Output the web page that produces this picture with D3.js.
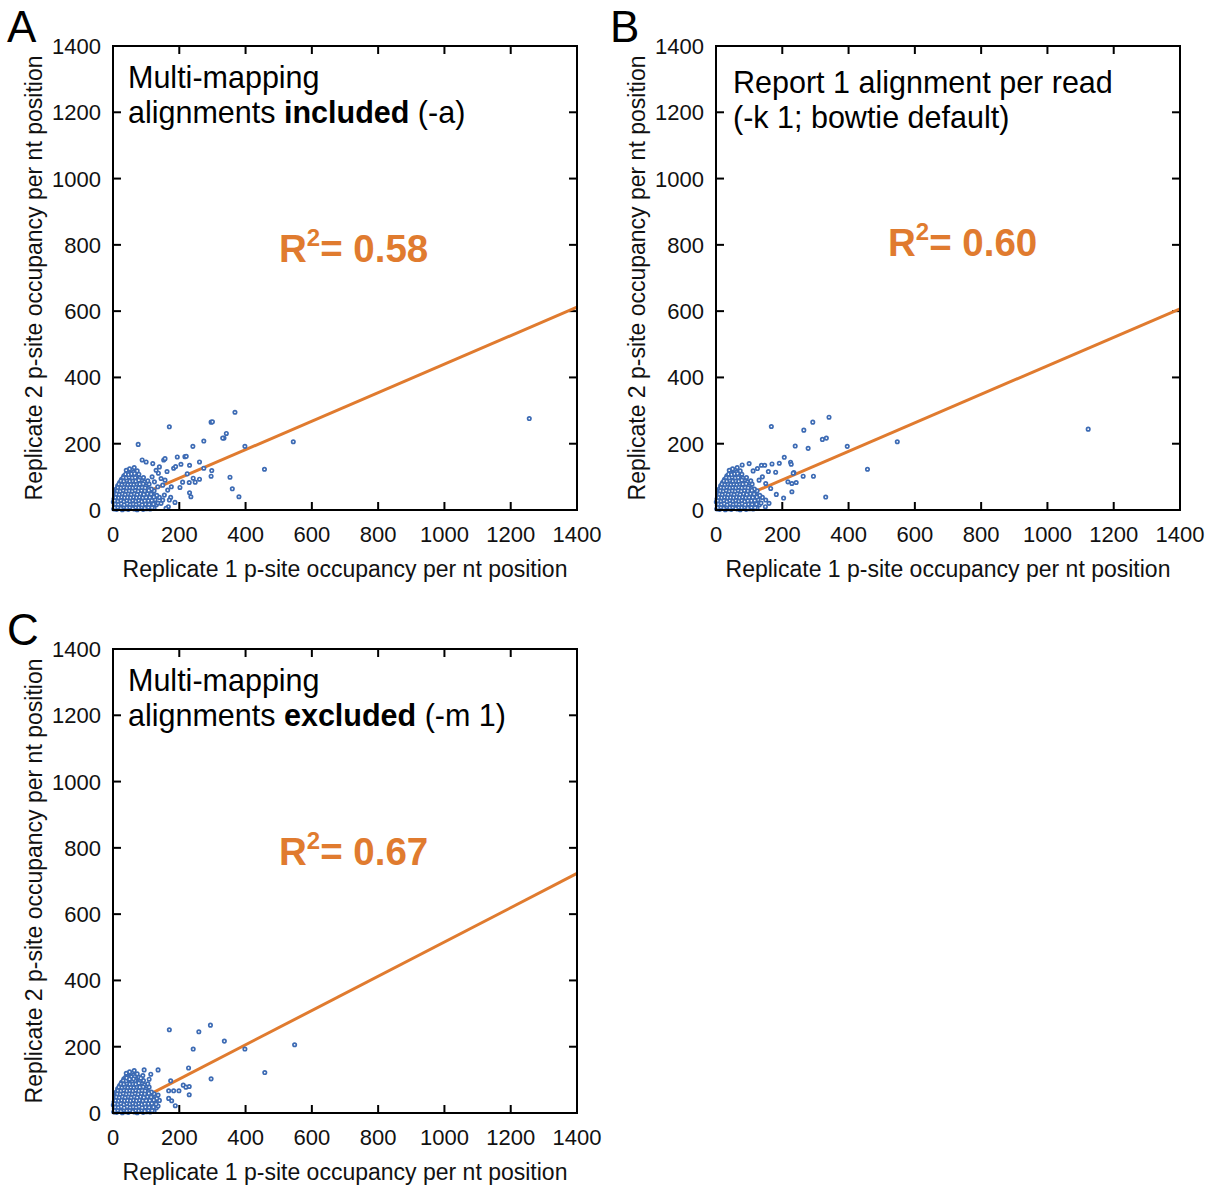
<!DOCTYPE html>
<html>
<head>
  <meta http-equiv="Content-Type" content="text/html;charset=utf-8">
  <title>Replicate p-site occupancy</title>
  <script src="https://d3js.org/d3.v7.min.js"></script>
  <style type="text/css">
    body { margin: 0; background: #fff; }
    svg { font-family: "Liberation Sans", Arial, sans-serif; }
    .frame { fill: none; stroke: #000; stroke-width: 2; }
    .tick-mark { stroke: #000; stroke-width: 2; }
    .tick-label { font-size: 22px; fill: #111; }
    .axis-title { font-size: 23px; fill: #111; }
    .note { font-size: 30.5px; fill: #000; }
    .letter { font-size: 44px; fill: #000; }
    .dot { fill: #fff; stroke: #3d6bb4; stroke-width: 1.7; }
    .fit { stroke: #e07b2f; stroke-width: 3; fill: none; }
    .r2 { font-size: 38.5px; font-weight: bold; fill: #e07b2f; }
  </style>
</head>
<body>
<svg width="1210" height="1186"></svg>
<script type='text/javascript'>
  const ticks = [0, 200, 400, 600, 800, 1000, 1200, 1400];

  const panelNames = ['A', 'B', 'C'];
  const panelNotes = [
    [['Multi-mapping'], ['alignments ', ['included', true], ' (-a)']],
    [['Report 1 alignment per read'], ['(-k 1; bowtie default)']],
    [['Multi-mapping'], ['alignments ', ['excluded', true], ' (-m 1)']]
  ];
  const r2Values = ['0.58', '0.60', '0.67'];
  const fitSlopes = [0.43, 0.43, 0.517];
  const fitIntercepts = [10, 5, -1];

  // dense low-occupancy cloud near the origin (common to all three panels)
  const clusterCore = [
    [2,3],[11,2],[19,5],[28,1],[37,4],[46,2],[55,6],[64,3],[73,1],[82,5],[91,2],[101,4],[112,3],[124,6],
    [4,13],[13,10],[22,14],[31,11],[40,15],[50,12],[59,9],[68,14],[77,11],[87,15],[96,10],[106,13],[117,12],[131,16],
    [1,24],[9,21],[18,25],[27,20],[36,23],[45,26],[54,21],[63,24],[72,22],[81,27],[90,20],[100,25],[110,22],[121,26],[136,21],
    [3,33],[12,31],[21,35],[30,30],[39,34],[48,32],[57,36],[66,31],[75,34],[84,30],[94,35],[104,32],[115,36],[127,31],[140,38],
    [5,43],[14,41],[23,45],[32,40],[41,44],[50,42],[59,46],[68,41],[77,45],[87,40],[97,44],[108,42],[119,47],[132,44],
    [8,53],[17,51],[26,55],[35,50],[44,54],[53,52],[62,56],[71,51],[80,55],[90,52],[101,57],[113,53],[124,58],
    [10,63],[19,61],[28,65],[37,60],[46,64],[55,62],[64,66],[73,61],[82,65],[92,62],[104,67],[116,63],
    [14,73],[23,71],[32,75],[41,70],[50,74],[59,72],[68,76],[77,71],[87,75],[99,72],[109,78],
    [20,83],[29,81],[38,85],[47,80],[56,84],[65,82],[74,86],[84,81],[95,85],[105,88],
    [26,93],[35,91],[44,95],[53,90],[62,94],[71,92],[81,96],[92,98],
    [33,103],[42,101],[51,105],[60,100],[69,104],[78,108],
    [44,113],[53,111],[62,115],[73,118],
    [50,124],[64,128],[40,120]
  ];
  const clusterFill = [
    [6,7],[15,8],[24,6],[33,9],[42,7],[51,8],[60,5],[69,8],[78,7],[87,8],[96,6],[107,8],[118,7],
    [7,18],[16,17],[25,19],[34,16],[43,19],[52,17],[61,18],[70,17],[79,19],[88,16],[98,18],[109,17],[122,18],
    [6,28],[15,27],[24,29],[33,26],[42,29],[51,27],[60,29],[69,27],[78,29],[87,26],[96,28],[107,28],[117,29],
    [8,38],[17,37],[26,39],[35,37],[44,38],[53,37],[62,39],[71,37],[80,39],[90,37],[100,38],[111,38],[123,39],
    [10,48],[19,47],[28,49],[37,47],[46,49],[55,47],[64,49],[73,47],[83,49],[93,47],[104,49],[115,48],
    [13,58],[22,57],[31,59],[40,57],[49,58],[58,57],[67,59],[76,57],[86,59],[96,58],[108,59],
    [15,68],[24,67],[33,69],[42,67],[51,68],[60,67],[69,69],[78,67],[88,68],[97,67],
    [18,78],[27,77],[36,79],[45,77],[54,78],[63,77],[72,79],[81,78],[91,79],
    [24,88],[33,87],[42,89],[51,87],[60,88],[69,87],[78,90],
    [31,98],[40,97],[49,99],[58,97],[67,98],
    [38,108],[47,107],[56,109],[65,110]
  ];

  const extraA = [
    [368,295],[296,265],[300,266],[170,251],[342,231],[335,217],[331,217],[76,198],[398,192],[274,208],
    [241,192],[217,161],[221,162],[194,160],[153,151],[157,155],[88,151],[261,145],[205,138],[231,135],
    [274,126],[298,119],[296,102],[261,93],[353,99],[360,64],[380,40],[224,109],[242,96],[248,84],
    [230,83],[231,52],[235,40],[187,23],[174,38],[167,10],[210,84],[202,68],[183,126],[189,131],
    [163,116],[137,111],[157,90],[176,70],[544,206],[457,123],[1256,276],
    [145,95],[150,75],[165,60],[140,130],[120,140],[100,145],[130,120],[155,45],[170,30],
    [145,20],[160,5],[150,30],[118,100],[125,85],[135,70]
  ];
  const extraB = [
    [341,280],[292,265],[167,252],[265,241],[333,217],[321,213],[396,192],[239,193],[278,186],[206,159],
    [225,144],[227,138],[191,141],[169,139],[137,135],[147,135],[79,136],[235,113],[263,102],[294,102],
    [242,83],[229,80],[217,85],[180,114],[229,55],[331,39],[204,36],[182,47],[149,10],[158,116],
    [112,118],[547,206],[457,123],[1123,244],[233,111],[150,80],[165,65],[140,100],[125,125],[100,140],
    [150,30],[160,20],[130,90]
  ];
  const extraC = [
    [170,251],[294,265],[259,245],[336,217],[242,193],[398,193],[548,206],[458,122],[136,130],[94,130],
    [114,117],[90,113],[84,105],[228,136],[174,97],[296,103],[212,84],[220,78],[230,80],[199,67],
    [183,67],[168,67],[230,55],[168,44],[177,37],[188,22],[130,27],[136,54],[41,106],[50,102],
    [62,103],[109,102]
  ];
  const panelExtras = [extraA, extraB, extraC];

  const panelOrigins = [[113, 46], [716, 46], [113, 649]];
  const size = 464;
  const tickLen = 8;

  const svg = d3.select('svg');

  panelNames.forEach((name, i) => {
    const [ox, oy] = panelOrigins[i];
    const g = svg.append('g').attr('transform', `translate(${ox},${oy})`);
    const x = d3.scaleLinear().domain([0, 1400]).range([0, size]);
    const y = d3.scaleLinear().domain([0, 1400]).range([size, 0]);

    // tick marks, inward on all four sides
    const inner = ticks.slice(1, -1);
    g.selectAll('.tb').data(inner).enter().append('line').attr('class', 'tick-mark')
      .attr('x1', d => x(d)).attr('x2', d => x(d)).attr('y1', size).attr('y2', size - tickLen);
    g.selectAll('.tt').data(inner).enter().append('line').attr('class', 'tick-mark')
      .attr('x1', d => x(d)).attr('x2', d => x(d)).attr('y1', 0).attr('y2', tickLen);
    g.selectAll('.tl').data(inner).enter().append('line').attr('class', 'tick-mark')
      .attr('y1', d => y(d)).attr('y2', d => y(d)).attr('x1', 0).attr('x2', tickLen);
    g.selectAll('.tr').data(inner).enter().append('line').attr('class', 'tick-mark')
      .attr('y1', d => y(d)).attr('y2', d => y(d)).attr('x1', size).attr('x2', size - tickLen);

    g.selectAll('.xl').data(ticks).enter().append('text').attr('class', 'tick-label')
      .attr('x', d => x(d)).attr('y', size + 32).attr('text-anchor', 'middle').text(d => d);
    g.selectAll('.yl').data(ticks).enter().append('text').attr('class', 'tick-label')
      .attr('x', -12).attr('y', d => y(d) + 8).attr('text-anchor', 'end').text(d => d);

    g.append('text').attr('class', 'axis-title')
      .attr('x', size / 2).attr('y', size + 67).attr('text-anchor', 'middle')
      .text('Replicate 1 p-site occupancy per nt position');
    g.append('text').attr('class', 'axis-title')
      .attr('transform', `translate(-71,${size / 2}) rotate(-90)`).attr('text-anchor', 'middle')
      .text('Replicate 2 p-site occupancy per nt position');

    // regression line
    const s = fitSlopes[i], b = fitIntercepts[i];
    g.append('line').attr('class', 'fit')
      .attr('x1', x(0)).attr('y1', y(b)).attr('x2', x(1400)).attr('y2', y(s * 1400 + b));

    // points
    const pts = clusterCore.concat(clusterFill, panelExtras[i]);
    g.selectAll('.dot').data(pts).enter().append('circle').attr('class', 'dot')
      .attr('cx', d => x(d[0])).attr('cy', d => y(d[1])).attr('r', 1.7);

    g.append('rect').attr('class', 'frame').attr('width', size).attr('height', size);

    // notes inside the plot
    panelNotes[i].forEach((line, li) => {
      const t = g.append('text').attr('class', 'note')
        .attr('x', i === 1 ? 17 : 15).attr('y', (i === 1 ? 47 : 42) + li * 35);
      line.forEach(part => {
        if (Array.isArray(part)) t.append('tspan').attr('font-weight', 'bold').text(part[0]);
        else t.append('tspan').text(part);
      });
    });

    // R^2 label
    const r2 = g.append('text').attr('class', 'r2')
      .attr('x', i === 1 ? 172 : 166).attr('y', i === 1 ? 210 : 216);
    r2.append('tspan').text('R');
    r2.append('tspan').attr('font-size', 24).attr('dy', -16).text('2');
    r2.append('tspan').attr('dy', 16).text('= ' + r2Values[i]);

    // panel letter
    svg.append('text').attr('class', 'letter')
      .attr('x', ox - 106).attr('y', oy - 4).text(name);
  });
</script>
</body>
</html>
